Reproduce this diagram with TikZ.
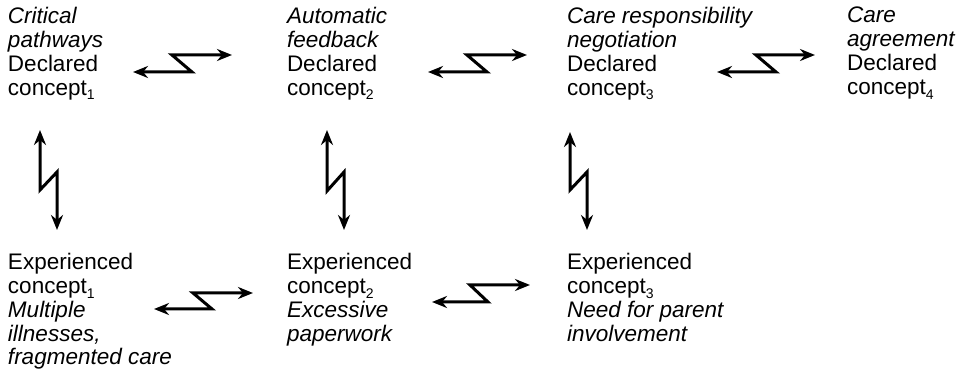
\documentclass[tikz,border=0pt]{standalone}
\usepackage{fontspec}
\setmainfont{Liberation Sans}
\usetikzlibrary{arrows.meta}
\newcommand{\sbx}[1]{\raisebox{-0.22em}{\fontsize{14}{14}\selectfont #1}}
\tikzset{
  lbl/.style={anchor=north west, inner sep=0pt, outer sep=0pt, align=left,
    font=\fontsize{22.5}{23.9}\selectfont},
  zz/.style={line width=3pt, line join=miter,
    {Stealth[length=15pt,width=12pt]}-{Stealth[length=15pt,width=12pt]}}
}
\begin{document}
\begin{tikzpicture}[x=1pt,y=-1pt]
\useasboundingbox (0,0) rectangle (961,379);
% text blocks
\node[lbl] (d1) at (8,7) {\textit{Critical}\\\textit{pathways}\\Declared\\concept\sbx{1}};
\node[lbl] (d2) at (287,7) {\textit{Automatic}\\\textit{feedback}\\Declared\\concept\sbx{2}};
\node[lbl] (d3) at (567,7) {\textit{Care responsibility}\\\textit{negotiation}\\Declared\\concept\sbx{3}};
\node[lbl] (d4) at (847,7) {\textit{Care}\\\textit{agreement}\\Declared\\concept\sbx{4}};
\node[lbl] (e1) at (8,253) {Experienced\\concept\sbx{1}\\\textit{Multiple}\\\textit{illnesses,}\\\textit{fragmented care}};
\node[lbl] (e2) at (287,253) {Experienced\\concept\sbx{2}\\\textit{Excessive}\\\textit{paperwork}};
\node[lbl] (e3) at (567,253) {Experienced\\concept\sbx{3}\\\textit{Need for parent}\\\textit{involvement}};
% arrow end coordinates
\coordinate (h1a) at (133,72);  \coordinate (h1b) at (232,55);
\coordinate (h2a) at (428,72);  \coordinate (h2b) at (527,55);
\coordinate (h3a) at (717,72);  \coordinate (h3b) at (815,55);
\coordinate (h4a) at (154,309); \coordinate (h4b) at (253,293);
\coordinate (h5a) at (432,302); \coordinate (h5b) at (530,285);
\coordinate (v1a) at (40,130);  \coordinate (v1b) at (57,230);
\coordinate (v2a) at (327,130); \coordinate (v2b) at (344,230);
\coordinate (v3a) at (570,132); \coordinate (v3b) at (587,230);
% horizontal zigzag arrows
\draw[zz] (h1a) -- ++(59,0) -- ++(-20,-17) -- (h1b);
\draw[zz] (h2a) -- ++(59,0) -- ++(-20,-17) -- (h2b);
\draw[zz] (h3a) -- ++(59,0) -- ++(-20,-17) -- (h3b);
\draw[zz] (h4a) -- ++(58,0) -- ++(-19,-16) -- (h4b);
\draw[zz] (h5a) -- ++(56,0) -- ++(-18,-17) -- (h5b);
% vertical zigzag arrows
\draw[zz] (v1a) -- ++(0,60) -- ++(17,-18) -- (v1b);
\draw[zz] (v2a) -- ++(0,61) -- ++(17,-19) -- (v2b);
\draw[zz] (v3a) -- ++(0,58) -- ++(17,-18) -- (v3b);
\end{tikzpicture}
\end{document}
